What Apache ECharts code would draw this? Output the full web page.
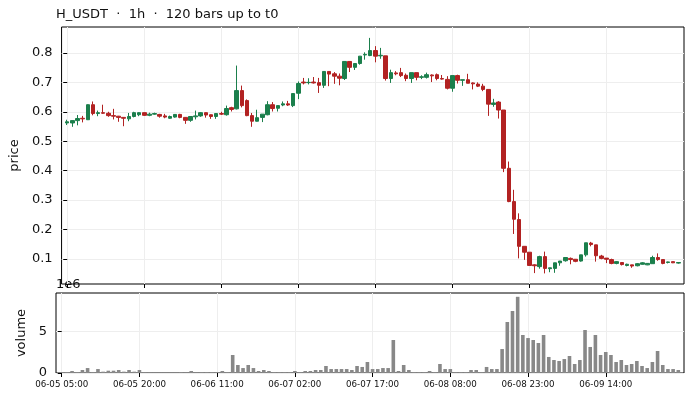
<!DOCTYPE html>
<html lang="en">
<head>
    <meta charset="UTF-8">
    <title>H_USDT 1h</title>
    <script src="https://cdn.jsdelivr.net/npm/echarts/dist/echarts.min.js"></script>
    <style>
        body { margin: 0; background: #fff; }
        #chart { width: 692px; height: 400px; }
    </style>
</head>
<body>
<div id="chart"></div>
<script>
    // hourly bars, index 0 = 06-05 05:00
    var openP = [0.562,0.562,0.570,0.578,0.573,0.624,0.594,0.597,0.595,0.587,
        0.585,0.581,0.576,0.584,0.590,0.597,0.588,0.592,0.591,0.586,
        0.578,0.582,0.591,0.581,0.571,0.583,0.586,0.597,0.590,0.584,
        0.594,0.590,0.614,0.610,0.672,0.638,0.587,0.568,0.581,0.590,
        0.624,0.612,0.623,0.627,0.621,0.663,0.701,0.699,0.701,0.699,
        0.690,0.737,0.729,0.721,0.713,0.771,0.751,0.764,0.793,0.791,
        0.808,0.790,0.790,0.713,0.732,0.733,0.724,0.713,0.733,0.717,
        0.717,0.725,0.726,0.713,0.710,0.680,0.723,0.707,0.709,0.698,
        0.694,0.687,0.676,0.625,0.633,0.606,0.408,0.295,0.234,0.143,
        0.123,0.080,0.074,0.108,0.067,0.068,0.087,0.094,0.102,0.099,
        0.093,0.114,0.154,0.148,0.110,0.103,0.098,0.085,0.088,0.078,
        0.080,0.077,0.082,0.080,0.084,0.105,0.098,0.088,0.091,0.086];
    var closeP = [0.566,0.570,0.577,0.576,0.624,0.594,0.597,0.595,0.587,0.585,
        0.581,0.578,0.584,0.597,0.597,0.588,0.592,0.594,0.585,0.582,
        0.584,0.591,0.581,0.571,0.584,0.586,0.597,0.589,0.584,0.594,
        0.592,0.611,0.608,0.672,0.621,0.587,0.568,0.580,0.592,0.624,
        0.611,0.621,0.627,0.623,0.662,0.696,0.698,0.700,0.698,0.690,
        0.737,0.728,0.721,0.714,0.771,0.751,0.764,0.789,0.795,0.808,
        0.789,0.792,0.713,0.733,0.729,0.723,0.713,0.733,0.717,0.719,
        0.726,0.722,0.713,0.711,0.680,0.723,0.707,0.709,0.697,0.695,
        0.687,0.676,0.626,0.630,0.606,0.408,0.295,0.235,0.143,0.123,
        0.078,0.077,0.108,0.068,0.070,0.087,0.093,0.105,0.098,0.092,
        0.114,0.155,0.149,0.111,0.102,0.099,0.085,0.091,0.081,0.082,
        0.076,0.084,0.087,0.085,0.105,0.098,0.085,0.090,0.087,0.088];
    var lowP = [0.555,0.549,0.554,0.564,0.572,0.588,0.585,0.593,0.583,0.574,
        0.566,0.551,0.568,0.581,0.585,0.586,0.585,0.590,0.580,0.578,
        0.576,0.580,0.578,0.559,0.566,0.574,0.583,0.580,0.576,0.576,
        0.589,0.587,0.601,0.608,0.615,0.585,0.549,0.567,0.565,0.588,
        0.601,0.601,0.619,0.620,0.616,0.643,0.693,0.693,0.696,0.664,
        0.681,0.687,0.695,0.690,0.708,0.735,0.742,0.760,0.777,0.789,
        0.768,0.780,0.706,0.698,0.724,0.718,0.704,0.698,0.707,0.711,
        0.713,0.701,0.707,0.709,0.676,0.668,0.696,0.688,0.697,0.676,
        0.684,0.670,0.586,0.617,0.577,0.395,0.293,0.185,0.102,0.097,
        0.077,0.052,0.067,0.051,0.055,0.053,0.077,0.091,0.082,0.089,
        0.091,0.108,0.143,0.091,0.099,0.086,0.082,0.082,0.078,0.075,
        0.070,0.075,0.081,0.079,0.084,0.094,0.082,0.085,0.086,0.084];
    var highP = [0.573,0.571,0.589,0.586,0.625,0.635,0.604,0.624,0.600,0.610,
        0.586,0.582,0.596,0.600,0.598,0.598,0.597,0.597,0.593,0.593,
        0.587,0.592,0.593,0.582,0.585,0.604,0.599,0.598,0.591,0.595,
        0.600,0.621,0.617,0.757,0.689,0.642,0.596,0.607,0.592,0.636,
        0.633,0.621,0.635,0.637,0.662,0.703,0.715,0.714,0.718,0.715,
        0.737,0.737,0.735,0.730,0.771,0.771,0.764,0.789,0.802,0.851,
        0.823,0.817,0.790,0.743,0.738,0.749,0.730,0.733,0.733,0.724,
        0.733,0.727,0.730,0.725,0.721,0.723,0.726,0.709,0.729,0.700,
        0.700,0.695,0.676,0.644,0.636,0.606,0.431,0.335,0.255,0.143,
        0.123,0.082,0.111,0.125,0.070,0.087,0.093,0.105,0.105,0.100,
        0.114,0.155,0.158,0.148,0.114,0.103,0.101,0.093,0.088,0.084,
        0.080,0.086,0.089,0.086,0.111,0.119,0.098,0.091,0.091,0.089];
    var volume = [0.12,0.12,0.24,0.12,0.36,0.60,0.12,0.48,0.16,0.28,
        0.28,0.36,0.16,0.36,0.16,0.36,0.08,0.03,0.02,0.02,
        0.02,0.02,0.02,0.12,0.03,0.24,0.03,0.12,0.12,0.12,
        0.12,0.24,0.12,2.18,0.97,0.60,0.97,0.60,0.24,0.36,
        0.24,0.12,0.12,0.12,0.12,0.24,0.12,0.24,0.24,0.36,
        0.36,0.85,0.48,0.48,0.48,0.48,0.36,0.85,0.73,1.33,
        0.48,0.48,0.60,0.60,3.99,0.24,0.97,0.36,0.12,0.12,
        0.12,0.24,0.12,1.09,0.48,0.48,0.12,0.12,0.12,0.36,
        0.36,0.12,0.73,0.48,0.48,2.90,6.17,7.50,9.22,4.60,
        4.23,3.99,3.63,4.60,1.94,1.57,1.45,1.69,2.06,1.09,
        1.57,5.20,3.15,4.60,2.18,2.54,2.18,1.33,1.57,0.97,
        1.09,1.45,0.85,0.60,1.33,2.66,0.97,0.48,0.48,0.36]; // x 1e6

    var tickIdx = [0, 15, 30, 45, 60, 75, 90, 105];
    var tickLabels = ['06-05 05:00', '06-05 20:00', '06-06 11:00', '06-07 02:00',
        '06-07 17:00', '06-08 08:00', '06-08 23:00', '06-09 14:00'];
    var priceTicks = [0.1, 0.2, 0.3, 0.4, 0.5, 0.6, 0.7, 0.8];
    var volTicks = [0, 5e6];

    var candles = openP.map(function(o, i) {
        return [i, o, closeP[i], lowP[i], highP[i]];
    });
    var volBars = volume.map(function(v, i) { return [i, v * 1e6]; });

    var font = 'DejaVu Sans';
    var up = '#1b7f4c', down = '#b22222';

    function xAxis(gridIndex, showLabels) {
        return {
            type: 'value', gridIndex: gridIndex, min: -1.1, max: 120.1,
            axisLine: { show: false },
            axisTick: { show: true, customValues: tickIdx, length: 4, lineStyle: { color: '#000' } },
            axisLabel: {
                show: showLabels, customValues: tickIdx, margin: 7,
                fontFamily: font, fontSize: 8.7, color: '#111',
                formatter: function(v) { return tickLabels[tickIdx.indexOf(v)]; }
            },
            splitLine: { show: true, lineStyle: { color: '#eeeeee', width: 1 } }
        };
    }

    var chart = echarts.init(document.getElementById('chart'));
    chart.setOption({
        animation: false,
        title: {
            text: 'H_USDT  ·  1h  ·  120 bars up to t0',
            left: 51, top: 3,
            textStyle: { fontFamily: font, fontSize: 13, fontWeight: 'normal', color: '#111' }
        },
        grid: [
            { left: 56, right: 8, top: 27, height: 257, show: true, borderColor: '#000', borderWidth: 1 },
            { left: 56, right: 8, top: 293, height: 80, show: true, borderColor: '#000', borderWidth: 1 }
        ],
        xAxis: [xAxis(0, false), xAxis(1, true)],
        yAxis: [
            {
                type: 'value', gridIndex: 0, min: 0.015, max: 0.888,
                name: 'price', nameLocation: 'middle', nameGap: 36,
                nameTextStyle: { fontFamily: font, fontSize: 13, color: '#111' },
                axisLine: { show: false },
                axisTick: { show: true, customValues: priceTicks, length: 4, lineStyle: { color: '#000' } },
                axisLabel: { customValues: priceTicks, margin: 9, fontFamily: font, fontSize: 13, color: '#111' },
                splitLine: { show: true, lineStyle: { color: '#eeeeee', width: 1 } }
            },
            {
                type: 'value', gridIndex: 1, min: 0, max: 9.68e6,
                name: 'volume', nameLocation: 'middle', nameGap: 23,
                nameTextStyle: { fontFamily: font, fontSize: 13, color: '#111' },
                axisLine: { show: false },
                axisTick: { show: true, customValues: volTicks, length: 4, lineStyle: { color: '#000' } },
                axisLabel: {
                    customValues: volTicks, margin: 9, fontFamily: font, fontSize: 13, color: '#111',
                    formatter: function(v) { return String(v / 1e6); }
                },
                splitLine: { show: true, lineStyle: { color: '#eeeeee', width: 1 } }
            }
        ],
        graphic: [
            { type: 'text', left: 56, top: 278, style: { text: '1e6', font: '13px "DejaVu Sans"', fill: '#111' } }
        ],
        series: [
            {
                type: 'candlestick', xAxisIndex: 0, yAxisIndex: 0,
                encode: { x: 0, y: [1, 2, 3, 4] },
                barWidth: 4,
                itemStyle: { color: up, color0: down, borderColor: up, borderColor0: down, borderWidth: 1 },
                data: candles
            },
            {
                type: 'bar', xAxisIndex: 1, yAxisIndex: 1,
                barWidth: 3.6,
                itemStyle: { color: '#888888' },
                data: volBars
            }
        ]
    });
</script>
</body>
</html>
